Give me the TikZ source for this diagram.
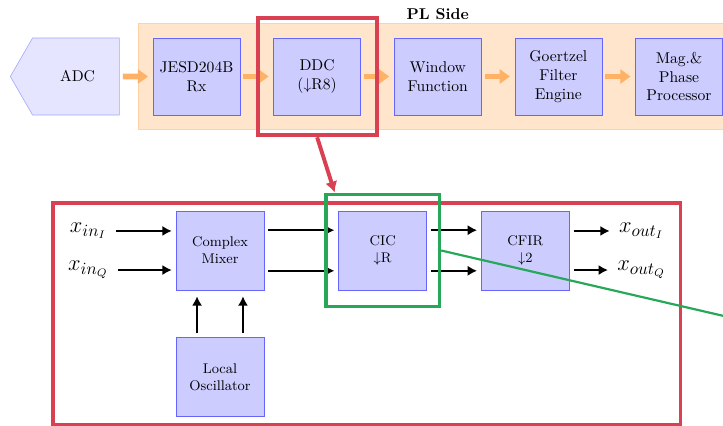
\documentclass[tikz,border=0pt]{standalone}
\usepackage{tikz}
\usetikzlibrary{positioning, fit, calc, backgrounds, shapes.symbols, arrows.meta}

\definecolor{framered}{RGB}{217,64,82}
\definecolor{framegreen}{RGB}{38,168,88}

\begin{document}
\begin{tikzpicture}[
			x=0.64pt, y=-0.64pt,
			nodes = {
				align = center
			},
			block/.style={
				draw=blue!60,
				fill=blue!20,
				rectangle,
				minimum width=55.7pt,
				minimum height=49.3pt,
				inner sep=1pt
			},
			subblock/.style={
				block,
				minimum width=56.3pt,
				minimum height=50.6pt,
				font=\small
			},
			band/.style={
				draw=orange!35,
				fill=orange!20,
				inner xsep=9pt,
				inner ysep=9pt
			},
			flow/.style={
				draw=orange!60,
				line width=3.8pt,
				-{Triangle[length=6.5pt,width=9pt]},
				shorten <=2pt,
				shorten >=3pt
			},
			lines/.style={
				line width=1.6pt,
				>={Latex[length=6pt,width=6.5pt]},
				shorten <=2.5pt,
				shorten >=2.5pt
			},
			sig/.style={
				font=\fontsize{15}{18}\selectfont
			},
			redframe/.style={
				draw=framered,
				line width=2.5pt,
				rectangle
			},
			greenframe/.style={
				draw=framegreen,
				line width=2.2pt,
				rectangle
			}
		]
			\useasboundingbox (0,0) rectangle (723,426);
			\clip (0,0) rectangle (723,426);

			% PL side chain
			\node[block] (jesd) at (196.5,76.5) {JESD204B\\Rx};
			\node[block, signal, signal to=west, signal pointer angle=120,
				draw=blue!35, fill=blue!10, minimum width=69.8pt]
				(adc) [left=21.1pt of jesd] {\hspace{2pt}ADC};
			\node[block] (ddc) [right=21.1pt of jesd] {DDC\\($\downarrow$R8)};
			\node[block] (win) [right=21.1pt of ddc] {Window\\Function};
			\node[block] (goertzel) [right=21.1pt of win] {Goertzel\\Filter\\Engine};
			\node[block] (magph) [right=21.1pt of goertzel] {Mag.\&\\Phase\\Processor};

			\foreach \a/\b in {adc/jesd, jesd/ddc, ddc/win, win/goertzel, goertzel/magph}
				\draw[flow] (\a) -- (\b);

			\begin{scope}[on background layer]
				\clip (0,0) rectangle (723,426);
				\node[band, fit=(jesd)(magph)] (pl) {};
			\end{scope}
			\node[font=\bfseries, inner sep=1pt, above=1pt of pl] (plside) {PL Side};

			\node[redframe, fit=(ddc), inner xsep=10pt, inner ysep=12.8pt] (ddcframe) {};

			% DDC internals
			\node[subblock] (mixer) at (220,250.5) {Complex\\Mixer};
			\node[subblock] (cic) [right=47.4pt of mixer] {CIC\\$\downarrow$R};
			\node[subblock] (cfir) [right=34.6pt of cic] {CFIR\\$\downarrow$2};
			\node[subblock] (lo) [below=30pt of mixer] {Local\\Oscillator};

			\node[sig] (inI) at ([xshift=-56pt, yshift=12.5pt]mixer.west) {$x_{in_I}$};
			\node[sig] (inQ) at ([xshift=-56pt, yshift=-12.5pt]mixer.west) {$x_{in_Q}$};
			\node[sig] (outI) at ([xshift=46pt, yshift=12.5pt]cfir.east) {$x_{out_I}$};
			\node[sig] (outQ) at ([xshift=46pt, yshift=-12.5pt]cfir.east) {$x_{out_Q}$};

			\draw[lines,->] (inI) -- (inI -| mixer.west);
			\draw[lines,->] (inQ) -- (inQ -| mixer.west);
			\foreach \s in {13pt,-13pt} {
				\draw[lines,->] ([yshift=\s]mixer.east) -- ([yshift=\s]cic.west);
				\draw[lines,->] ([yshift=\s]cic.east) -- ([yshift=\s]cfir.west);
			}
			\draw[lines,->] (outI -| cfir.east) -- (outI);
			\draw[lines,->] (outQ -| cfir.east) -- (outQ);
			\foreach \s in {-14.7pt,14.7pt}
				\draw[lines,->,shorten >=3.8pt] ([xshift=\s]lo.north) -- ([xshift=\s]mixer.south);

			\node[redframe, fit=(inI)(inQ)(mixer)(lo)(outI)(outQ), inner xsep=6pt, inner ysep=5pt] (ddcbox) {};
			\node[greenframe, fit=(cic), inner xsep=8pt, inner ysep=10.5pt] (cicframe) {};

			% zoom connectors
			\coordinate (zoomend) at (780,329);
			\draw[framered, line width=2.5pt, -{Latex[length=7pt,width=8pt]}]
				(ddcframe.south) -- ($(cicframe.north west)!0.09!(cicframe.north east)$);
			\draw[framegreen, line width=1.4pt] (cicframe.east) -- (zoomend);
		\end{tikzpicture}
\end{document}
